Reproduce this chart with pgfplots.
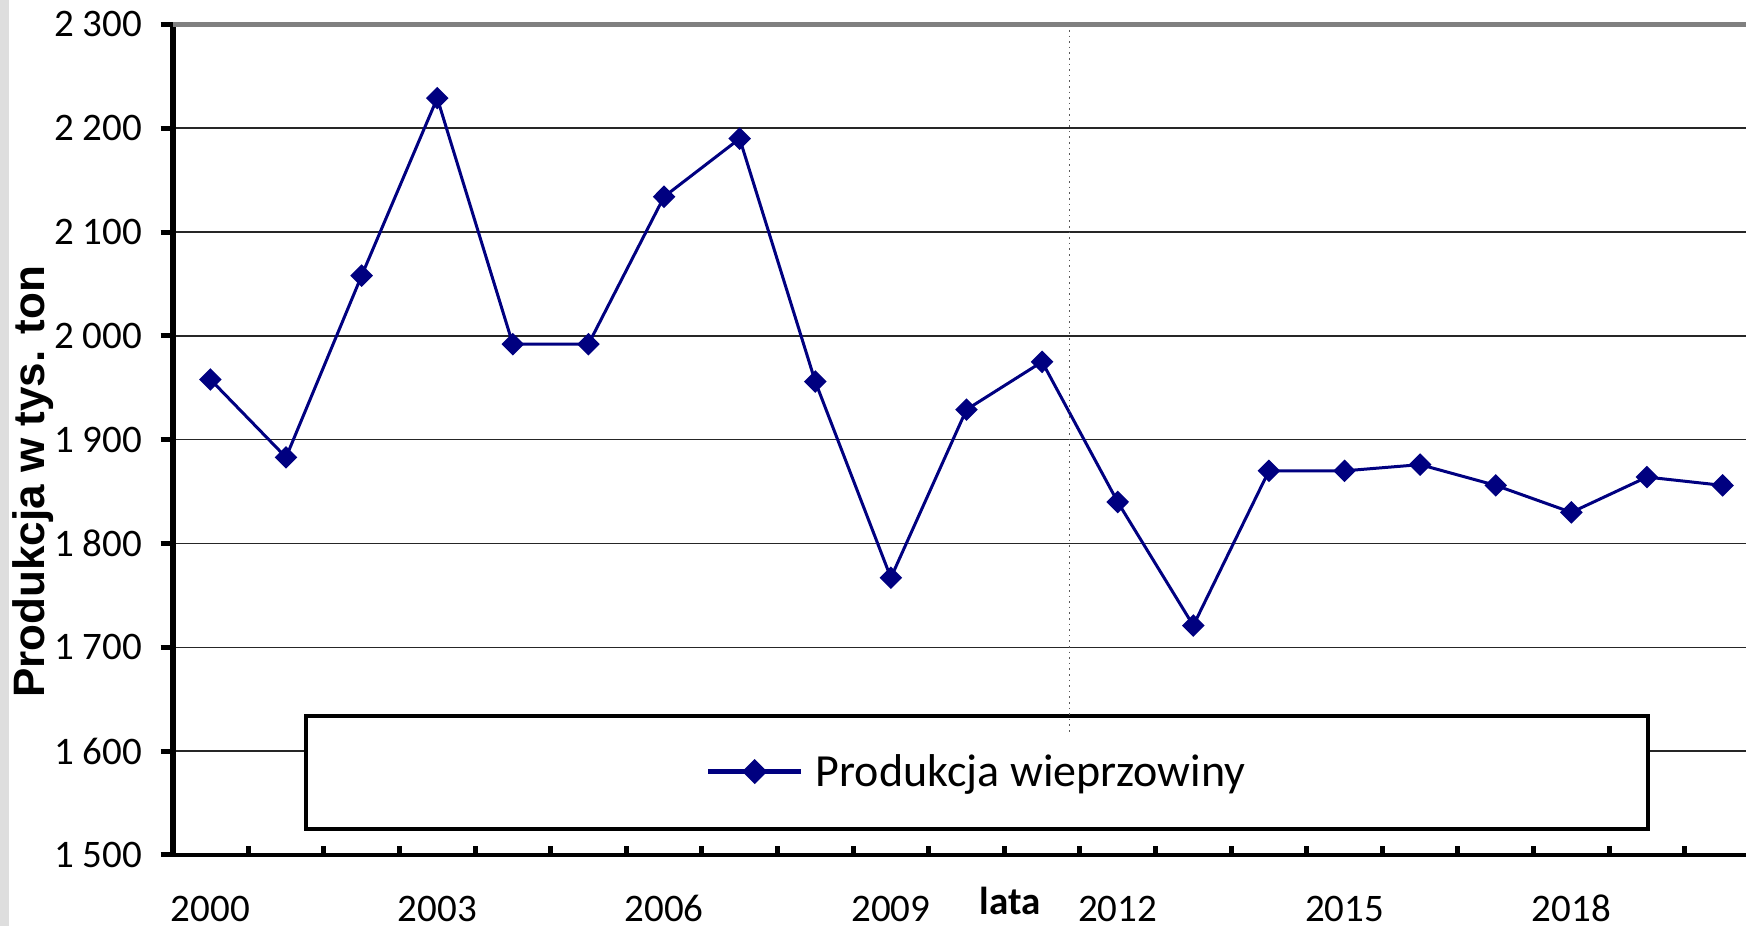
\documentclass[border=0pt]{standalone}
\usepackage{pgfplots}
\pgfplotsset{compat=1.18}
\usepackage{fontspec}
\setmainfont{Carlito}
\newfontfamily\lsans{Liberation Sans}
\definecolor{navyline}{RGB}{0,0,128}
\definecolor{topgray}{RGB}{128,128,128}
\begin{document}
\begin{tikzpicture}
\path[use as bounding box] (-86.3pt,-35.5pt) rectangle (786.7pt,427.5pt);
\fill[black!13] (-86.3pt,-35.5pt) rectangle (-82pt,427.5pt);
\begin{axis}[
  at={(0,0)}, anchor=south west,
  scale only axis, width=786.7pt, height=415.3pt,
  xmin=-0.5, xmax=20.31, ymin=1500, ymax=2300,
  clip=false,
  axis x line*=bottom, axis y line*=left,
  x axis line style={-, line width=2pt},
  y axis line style={-, line width=3pt},
  ytick={1500,1600,...,2300},
  xtick={0,3,...,18},
  xticklabels={2000,2003,2006,2009,2012,2015,2018},
  minor xtick={0.5,1.5,...,19.5},
  tick align=outside,
  major tick length=6pt,
  minor tick length=4.5pt,
  major x tick style={draw=none},
  minor x tick style={line width=2.5pt, black, yshift=4.5pt},
  ytick style={line width=2.5pt, black},
  ymajorgrids, grid style={line width=0.8pt, black!85},
  /pgf/number format/assume math mode=true,
  /pgf/number format/1000 sep={\hspace{0.22em}},
  yticklabel style={font=\fontsize{19.5}{23}\selectfont, anchor=east, inner sep=0pt, xshift=-9pt},
  xticklabel style={font=\fontsize{19.5}{23}\selectfont, anchor=base, inner sep=0pt, yshift=-27.2pt},
  ylabel={Produkcja w tys. ton},
  ylabel style={at={(axis description cs:-0.0885,0.4495)}, anchor=center, font={\lsans\bfseries\fontsize{22}{26}\selectfont}},
  legend style={at={(rel axis cs:0.3385,0.1004)}, anchor=west, draw=none, fill=none, inner sep=0pt, column sep=6pt, font=\fontsize{23}{27}\selectfont, nodes={inner sep=0pt}},
  legend image code/.code={\draw[mark repeat=2,mark phase=2,#1,line width=2.4pt] plot coordinates {(0pt,0pt) (23.35pt,0pt) (46.7pt,0pt)};},
]
\addplot[navyline, line width=1.5pt, mark=diamond*, mark size=4.6pt, mark options={solid, fill=navyline, xscale=1.33}] coordinates {
(0,1958) (1,1883) (2,2058) (3,2229) (4,1992) (5,1992) (6,2134) (7,2190) (8,1956) (9,1767) (10,1929) (11,1975) (12,1840) (13,1721) (14,1870) (15,1870) (16,1876) (17,1856) (18,1830) (19,1864) (20,1856)
};
\addlegendentry{Produkcja wieprzowiny}
\draw[line width=1.8pt, fill=white] (rel axis cs:0.0848,0.0313) rectangle (rel axis cs:0.9377,0.1673);
\draw[dotted, black!65, line width=0.8pt] (axis cs:11.36,2300) -- (axis cs:11.36,1618);
\draw[topgray, line width=2.6pt] (rel axis cs:0,1) -- (rel axis cs:1,1);
\node[font=\bfseries\fontsize{19.5}{23}\selectfont, anchor=base, yshift=-30pt] at (rel axis cs:0.5322,0) {lata};
\end{axis}
\end{tikzpicture}
\end{document}
